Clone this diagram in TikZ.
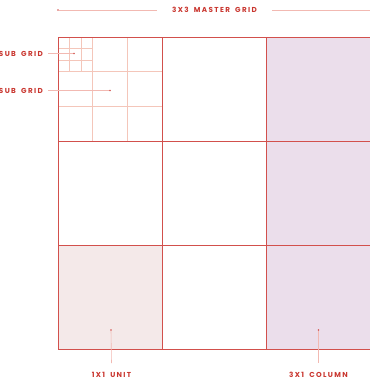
\documentclass[tikz,border=0pt]{standalone}
\usepackage{fontspec}
\newfontfamily\gridfont{Poppins}[LetterSpace=19,WordSpace=1.8]
\usepackage{tikz}
\usetikzlibrary{positioning,calc}
\definecolor{gridred}{HTML}{D2504C}
\definecolor{subred}{HTML}{F4C6BA}
\definecolor{leader}{HTML}{F2B9B2}
\definecolor{textred}{HTML}{C9362F}
\definecolor{unitbg}{HTML}{F4E9E9}
\definecolor{colbg}{HTML}{EBDEEB}

\begin{document}
\begin{tikzpicture}[x=1pt,y=-1pt,
  lbl/.style={font=\gridfont\bfseries\fontsize{7.2}{8}\selectfont,text=textred,inner sep=0pt},
  ld/.style={draw=leader,line width=0.6pt},
  dotc/.style={circle,fill=gridred,inner sep=0pt,minimum size=1.8pt},
  major/.style={draw=gridred,line width=0.8pt},
  minor/.style={draw=subred,line width=0.7pt}]
\useasboundingbox (0,0) rectangle (370,381);
\clip (0,0) rectangle (370,381);
% shaded unit and column
\fill[unitbg] (58,245) rectangle (162.3,349);
\fill[colbg] (266.7,37) rectangle (372,349);
% sub grid in the first unit
\foreach \x in {69.7,81.7} \draw[minor] (\x,37) -- (\x,71.7);
\foreach \y in {48,60} \draw[minor] (58,\y) -- (92.8,\y);
\foreach \x in {92.8,127.5} \draw[minor] (\x,37) -- (\x,141);
\foreach \y in {71.7,106.3} \draw[minor] (58,\y) -- (162.3,\y);
% master grid
\foreach \i in {0,...,3} {
  \draw[major] (58+\i*104.3,37) -- (58+\i*104.3,349);
  \draw[major] (58,37+\i*104) -- (372,37+\i*104);
}
% labels
\node[lbl] (master) at (214.5,10) {3X3 MASTER GRID};
\coordinate (mL) at (58,10);
\coordinate (mR) at (372,10);
\node[dotc] (dm) at (mL) {};
\draw[ld] (dm) -- ([xshift=-15pt]master.west);
\draw[ld] ([xshift=15pt]master.east) -- (mR);

\node[lbl,anchor=east] (subA) at (43,53.5) {SUB GRID};
\node[dotc] (dA) at (74,53.5) {};
\draw[ld] ([xshift=5pt]subA.east) -- (dA);
\node[lbl,anchor=east] (subB) at (43,90.5) {SUB GRID};
\node[dotc] (dB) at (110,90.5) {};
\draw[ld] ([xshift=5pt]subB.east) -- (dB);

\node[dotc] (dU) at (111,330) {};
\node[lbl] (unit) at (111.5,375) {1X1 UNIT};
\draw[ld] (dU) -- ([yshift=9pt]unit.north);
\node[dotc] (dC) at (318.5,330) {};
\node[lbl] (column) at (318.5,375) {3X1 COLUMN};
\draw[ld] (dC) -- ([yshift=9pt]column.north);
\end{tikzpicture}
\end{document}
